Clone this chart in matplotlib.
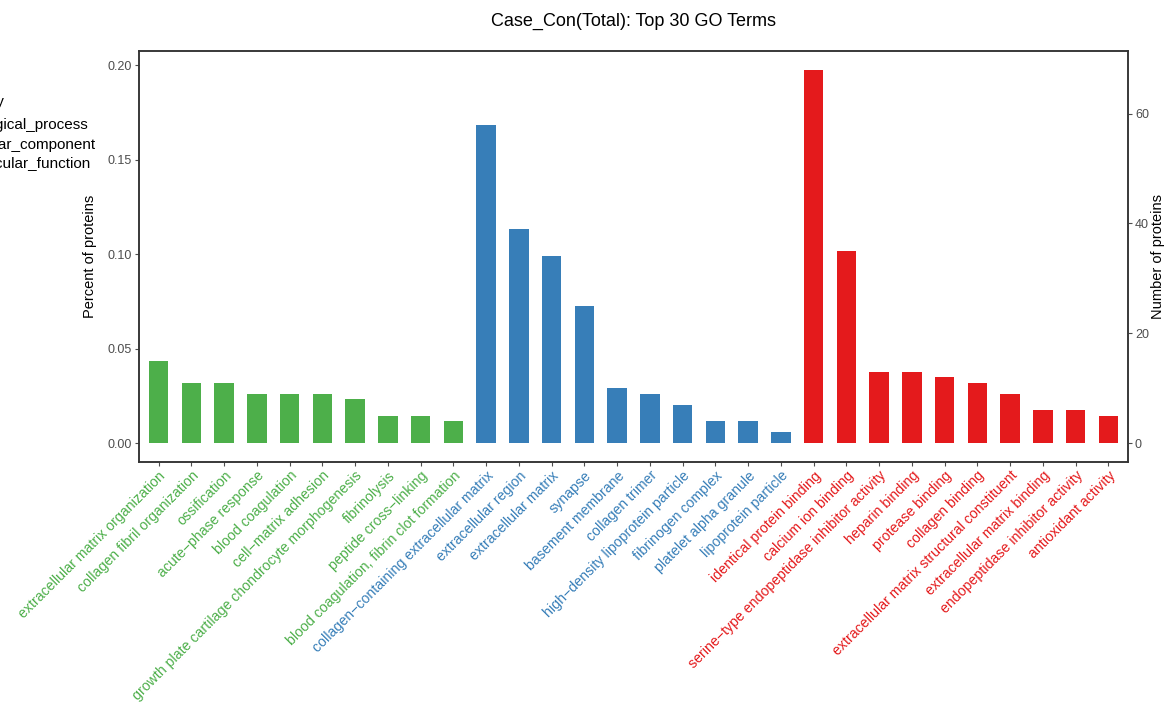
import numpy as np
import matplotlib
matplotlib.use('Agg')
import matplotlib.pyplot as plt

plt.rcParams['font.family'] = ['Liberation Sans', 'DejaVu Sans']

# GO terms, grouped by ontology
bp_terms = ['extracellular matrix organization', 'collagen fibril organization', 'ossification',
            'acute\u2212phase response', 'blood coagulation', 'cell\u2212matrix adhesion',
            'growth plate cartilage chondrocyte morphogenesis', 'fibrinolysis',
            'peptide cross\u2212linking', 'blood coagulation, fibrin clot formation']
bp_counts = [15, 11, 11, 9, 9, 9, 8, 5, 5, 4]

cc_terms = ['collagen\u2212containing extracellular matrix', 'extracellular region',
            'extracellular matrix', 'synapse', 'basement membrane', 'collagen trimer',
            'high\u2212density lipoprotein particle', 'fibrinogen complex',
            'platelet alpha granule', 'lipoprotein particle']
cc_counts = [58, 39, 34, 25, 10, 9, 7, 4, 4, 2]

mf_terms = ['identical protein binding', 'calcium ion binding',
            'serine\u2212type endopeptidase inhibitor activity', 'heparin binding',
            'protease binding', 'collagen binding',
            'extracellular matrix structural constituent', 'extracellular matrix binding',
            'endopeptidase inhibitor activity', 'antioxidant activity']
mf_counts = [68, 35, 13, 13, 12, 11, 9, 6, 6, 5]

total_proteins = 344
categories = ['biological_process', 'cellular_component', 'molecular_function']
cat_colors = ['#4DAF4A', '#377EB8', '#E41A1C']

terms = bp_terms + cc_terms + mf_terms
counts = np.array(bp_counts + cc_counts + mf_counts)
percent = counts / total_proteins
colors = ([cat_colors[0]] * len(bp_terms) + [cat_colors[1]] * len(cc_terms)
          + [cat_colors[2]] * len(mf_terms))

fig = plt.figure(figsize=(11.66, 7.10), dpi=100)
ax = fig.add_axes([0.1192, 0.3497, 0.8482, 0.5785])

x = np.arange(len(terms))
ax.bar(x, percent, width=0.6, color=colors)

ymax = percent.max()
lo, hi = -0.05 * ymax, ymax * 1.05
ax.set_xlim(-0.6, len(terms) - 0.4)
ax.set_ylim(lo, hi)
ax.set_yticks([0.0, 0.05, 0.10, 0.15, 0.20])
ax.set_yticklabels(['0.00', '0.05', '0.10', '0.15', '0.20'])
ax.set_xticks(x)
ax.set_xticklabels(terms, rotation=45, ha='right', rotation_mode='anchor', fontsize=10.2)
for lbl, c in zip(ax.get_xticklabels(), colors):
    lbl.set_color(c)

ax.set_ylabel('Percent of proteins', fontsize=10.5, labelpad=8)
ax.set_title('Case_Con(Total): Top 30 GO Terms', fontsize=13, pad=18)

# right axis: counts on the same scale
ax2 = ax.twinx()
ax2.set_ylim(lo * total_proteins, hi * total_proteins)
ax2.set_yticks([0, 20, 40, 60])
ax2.set_ylabel('Number of proteins', fontsize=10.5, rotation=90)
ax2.yaxis.label.set_va('center')
ax2.yaxis.set_label_coords(1.0305, 0.5)

for a in (ax, ax2):
    for s in a.spines.values():
        s.set_color('#333333')
        s.set_linewidth(1.1)
    a.tick_params(axis='y', colors='#4D4D4D', labelsize=9, length=3, width=0.8, pad=2)
ax.tick_params(axis='x', color='#4D4D4D', length=3, width=0.8, pad=2)

# legend sits left of the panel, running off the figure edge
fig.text(4 / 1166, 1 - 102 / 710, 'Category', ha='right', va='center', fontsize=11)
leg_y = [125, 145, 163]
leg_right = [88, 95, 90]
for name, yy, xr in zip(categories, leg_y, leg_right):
    fig.text(xr / 1166, 1 - yy / 710, name, ha='right', va='center', fontsize=11)

fig.savefig('out.png', dpi=100, facecolor='white')
